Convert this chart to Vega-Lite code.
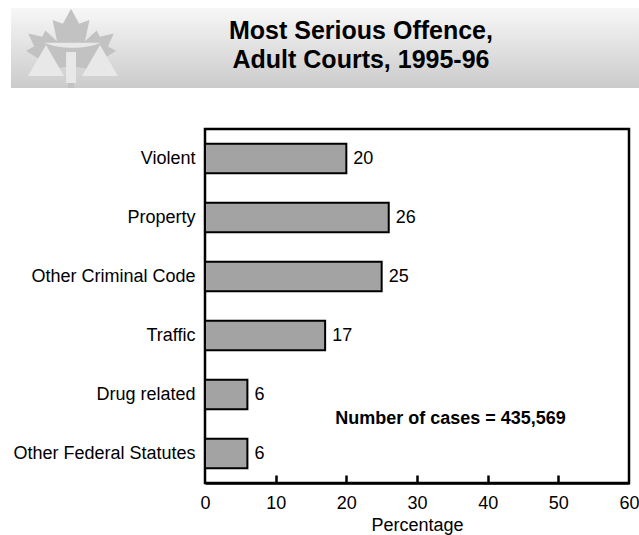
{
  "$schema": "https://vega.github.io/schema/vega-lite/v6.json",
  "padding": {"left": 10, "top": 8, "right": 0, "bottom": 0},
  "background": "white",
  "spacing": 39,
  "config": {"font": "Liberation Sans"},
  "vconcat": [
    {
      "width": 435,
      "height": 80,
      "view": {"stroke": null},
      "data": {"values": [{"title": ["Most Serious Offence,", "Adult Courts, 1995-96"]}]},
      "layer": [
        {
          "mark": {"type": "rect", "clip": false, "fill": {"gradient": "linear", "x1": 0, "y1": 0, "x2": 0, "y2": 1, "stops": [{"offset": 0, "color": "#f7f7f7"}, {"offset": 1, "color": "#cbcbcb"}]}},
          "encoding": {
            "x": {"datum": -44.6, "type": "quantitative", "scale": {"domain": [0, 100], "nice": false, "zero": false}, "axis": null},
            "x2": {"datum": 100},
            "y": {"datum": 0, "type": "quantitative", "scale": {"domain": [0, 100], "nice": false, "reverse": true}, "axis": null},
            "y2": {"datum": 100}
          }
        },
        {
          "mark": {"type": "point", "filled": true, "opacity": 1, "color": "#c2c2c2", "strokeWidth": 0, "size": 8100,
            "shape": "M0,-0.88 L0.18,-0.55 L0.41,-0.63 L0.31,-0.16 L0.57,-0.4 L0.64,-0.26 L0.95,-0.33 L0.82,-0.04 L1,0.05 L0.57,0.33 L0.64,0.49 L0.07,0.41 L0.07,0.88 L-0.07,0.88 L-0.07,0.41 L-0.64,0.49 L-0.57,0.33 L-1,0.05 L-0.82,-0.04 L-0.95,-0.33 L-0.64,-0.26 L-0.57,-0.4 L-0.31,-0.16 L-0.41,-0.63 L-0.18,-0.55 Z"},
          "encoding": {
            "x": {"datum": -30.8, "type": "quantitative", "scale": {"domain": [0, 100], "nice": false, "zero": false}, "axis": null},
            "y": {"datum": 50.5, "type": "quantitative", "scale": {"domain": [0, 100], "nice": false, "reverse": true}, "axis": null}
          }
        },
        {
          "mark": {"type": "point", "filled": true, "opacity": 1, "color": "#e8e8e8", "strokeWidth": 0, "size": 1296, "shape": "M0,-0.86 L1,0.86 L-1,0.86 Z"},
          "encoding": {
            "x": {"datum": -36.55, "type": "quantitative", "scale": {"domain": [0, 100], "nice": false, "zero": false}, "axis": null},
            "y": {"datum": 65.6, "type": "quantitative", "scale": {"domain": [0, 100], "nice": false, "reverse": true}, "axis": null}
          }
        },
        {
          "mark": {"type": "point", "filled": true, "opacity": 1, "color": "#e8e8e8", "strokeWidth": 0, "size": 1296, "shape": "M0,-0.86 L1,0.86 L-1,0.86 Z"},
          "encoding": {
            "x": {"datum": -24.14, "type": "quantitative", "scale": {"domain": [0, 100], "nice": false, "zero": false}, "axis": null},
            "y": {"datum": 65.6, "type": "quantitative", "scale": {"domain": [0, 100], "nice": false, "reverse": true}, "axis": null}
          }
        },
        {
          "mark": {"type": "point", "filled": true, "opacity": 1, "color": "#e8e8e8", "strokeWidth": 0, "size": 961, "shape": "M-0.32,-1 L0.32,-1 L0.32,1 L-0.32,1 Z"},
          "encoding": {
            "x": {"datum": -30.8, "type": "quantitative", "scale": {"domain": [0, 100], "nice": false, "zero": false}, "axis": null},
            "y": {"datum": 74.4, "type": "quantitative", "scale": {"domain": [0, 100], "nice": false, "reverse": true}, "axis": null}
          }
        },
        {
          "mark": {"type": "point", "filled": true, "opacity": 1, "color": "#e8e8e8", "strokeWidth": 0, "size": 3249, "shape": "M-1,-0.08 L1,-0.08 Q0.6,0.08 0.15,0.1 L-0.15,0.1 Q-0.6,0.08 -1,-0.08 Z"},
          "encoding": {
            "x": {"datum": -30.46, "type": "quantitative", "scale": {"domain": [0, 100], "nice": false, "zero": false}, "axis": null},
            "y": {"datum": 46.25, "type": "quantitative", "scale": {"domain": [0, 100], "nice": false, "reverse": true}, "axis": null}
          }
        },
        {
          "mark": {"type": "text", "fontSize": 25, "fontWeight": "bold", "color": "black", "align": "center", "baseline": "alphabetic", "lineHeight": 29},
          "encoding": {
            "x": {"datum": 35.86, "type": "quantitative", "scale": {"domain": [0, 100], "nice": false, "zero": false}, "axis": null},
            "y": {"datum": 38.75, "type": "quantitative", "scale": {"domain": [0, 100], "nice": false, "reverse": true}, "axis": null},
            "text": {"field": "title"}
          }
        }
      ]
    },
    {
      "width": 424,
      "height": 354,
      "view": {"stroke": "black", "strokeWidth": 2.5},
      "data": {"values": [
        {"cat": "Violent", "pct": 20},
        {"cat": "Property", "pct": 26},
        {"cat": "Other Criminal Code", "pct": 25},
        {"cat": "Traffic", "pct": 17},
        {"cat": "Drug related", "pct": 6},
        {"cat": "Other Federal Statutes", "pct": 6}
      ]},
      "resolve": {"axis": {"x": "independent"}},
      "encoding": {
        "y": {"field": "cat", "type": "nominal",
          "sort": ["Violent", "Property", "Other Criminal Code", "Traffic", "Drug related", "Other Federal Statutes"],
          "scale": {"paddingInner": 0.5, "paddingOuter": 0.25},
          "axis": {"title": null, "ticks": false, "domain": false, "labelFontSize": 18, "labelColor": "black", "labelPadding": 10, "labelLimit": 300}}
      },
      "layer": [
        {
          "mark": {"type": "bar", "fill": "#a3a3a3", "stroke": "black", "strokeWidth": 2},
          "encoding": {
            "x": {"field": "pct", "type": "quantitative", "scale": {"domain": [0, 60], "nice": false},
              "axis": {"values": [0, 10, 20, 30, 40, 50, 60], "grid": false, "ticks": false, "domainColor": "black", "domainWidth": 2.5, "labelFontSize": 18, "labelColor": "black", "labelPadding": 11, "labelFlush": false, "title": "Percentage", "titleFontSize": 18, "titleFontWeight": "normal", "titleColor": "black", "titlePadding": 4}}
          }
        },
        {
          "mark": {"type": "text", "align": "left", "baseline": "middle", "dx": 7, "fontSize": 18, "color": "black"},
          "encoding": {
            "x": {"field": "pct", "type": "quantitative", "scale": {"domain": [0, 60], "nice": false},
              "axis": {"orient": "bottom", "offset": -8, "zindex": 1, "values": [10, 20, 30, 40, 50], "grid": false, "domain": false, "labels": false, "ticks": true, "tickSize": 8, "tickWidth": 2.5, "tickColor": "black", "title": null}},
            "text": {"field": "pct"}
          }
        },
        {
          "data": {"values": [{"note": "Number of cases = 435,569"}]},
          "mark": {"type": "text", "align": "center", "baseline": "alphabetic", "dy": 29, "fontSize": 18, "fontWeight": "bold", "color": "black"},
          "encoding": {
            "x": {"datum": 34.74, "type": "quantitative", "axis": null},
            "y": {"datum": "Drug related", "type": "nominal"},
            "text": {"field": "note"}
          }
        }
      ]
    }
  ]
}
